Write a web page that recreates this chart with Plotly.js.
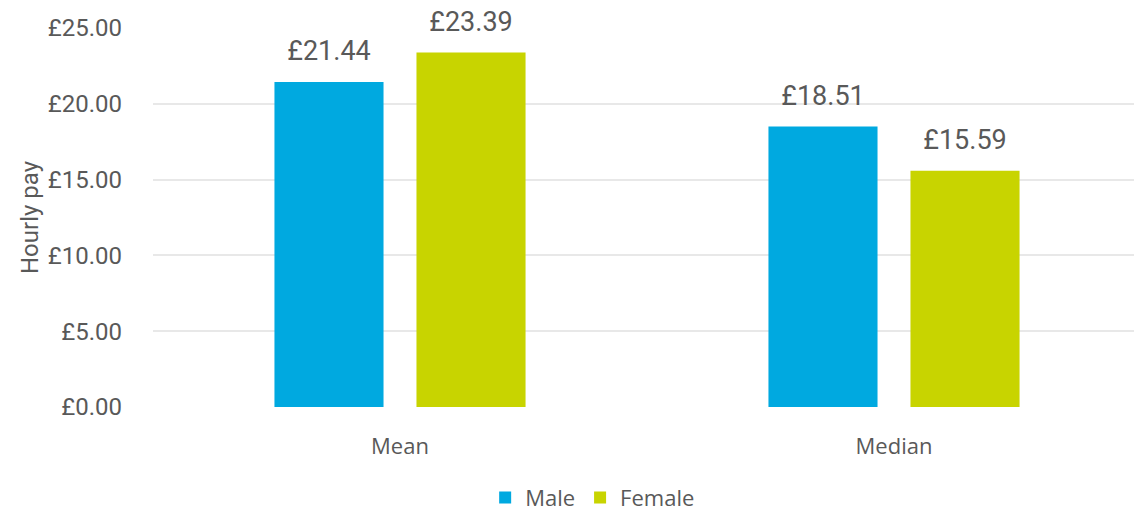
<!DOCTYPE html>
<html>
<head>
<meta charset="utf-8">
<script src="https://cdn.plot.ly/plotly-3.0.1.min.js"></script>
<style>html,body{margin:0;padding:0;overflow:hidden;background:#fff;}</style>
</head>
<body>
<div id="chart"></div>
<script>
const categories = ["Mean", "Median"];
const maleValues = [21.44, 18.51];
const femaleValues = [23.39, 15.59];
const seriesNames = ["Male", "Female"];
const tickValues = [0, 5, 10, 15, 20, 25];
const tickLabels = ["£0.00", "£5.00", "£10.00", "£15.00", "£20.00", "£25.00"];

const numFont = "Roboto, 'Open Sans', sans-serif";
const catFont = "'Open Sans', Lato, sans-serif";
const textColor = "#595959";
const colors = ["#00A9E0", "#C8D400"];
const GAP = 0.425;

const series = [maleValues, femaleValues];

const barTraces = series.map((vals, i) => ({
  type: "bar",
  name: seriesNames[i],
  x: categories,
  y: vals,
  offsetgroup: String(i + 1),
  marker: {color: colors[i]},
  hoverinfo: "skip"
}));

const labelTraces = series.map((vals, i) => ({
  type: "scatter",
  mode: "markers+text",
  showlegend: false,
  x: categories,
  y: vals,
  offsetgroup: String(i + 1),
  marker: {size: 22, opacity: 0, color: colors[i]},
  text: vals.map(v => "£" + v.toFixed(2)),
  textposition: "top center",
  textfont: {family: numFont, size: 27, color: textColor},
  cliponaxis: false,
  hoverinfo: "skip"
}));

const layout = {
  width: 1141,
  height: 511,
  margin: {l: 153, r: 0, t: 28, b: 104, autoexpand: false},
  paper_bgcolor: "#fff",
  plot_bgcolor: "#fff",
  barmode: "group",
  bargap: GAP,
  bargroupgap: 0.232,
  scattermode: "group",
  scattergap: GAP,
  showlegend: true,
  legend: {
    orientation: "h",
    xref: "paper", x: 0.445, xanchor: "center",
    yref: "container", y: 0.026, yanchor: "middle",
    font: {family: catFont, size: 22, color: textColor},
    traceorder: "normal"
  },
  xaxis: {
    type: "category",
    range: [-0.5, 1.5],
    showgrid: false,
    zeroline: false,
    showline: false,
    ticks: "",
    ticklabelstandoff: 24,
    tickfont: {family: catFont, size: 22, color: textColor}
  },
  yaxis: {
    range: [0, 25],
    tickvals: tickValues,
    ticktext: tickLabels,
    showgrid: true,
    gridcolor: "#E8E8E8",
    gridwidth: 2,
    zeroline: false,
    showline: false,
    ticks: "",
    ticklabelstandoff: 30,
    tickfont: {family: numFont, size: 24, color: textColor},
    title: {text: "Hourly pay", font: {family: numFont, size: 24, color: textColor}, standoff: 2}
  },
  font: {family: numFont, color: textColor}
};

Plotly.newPlot("chart", barTraces.concat(labelTraces), layout, {displayModeBar: false, staticPlot: true});
</script>
</body>
</html>
